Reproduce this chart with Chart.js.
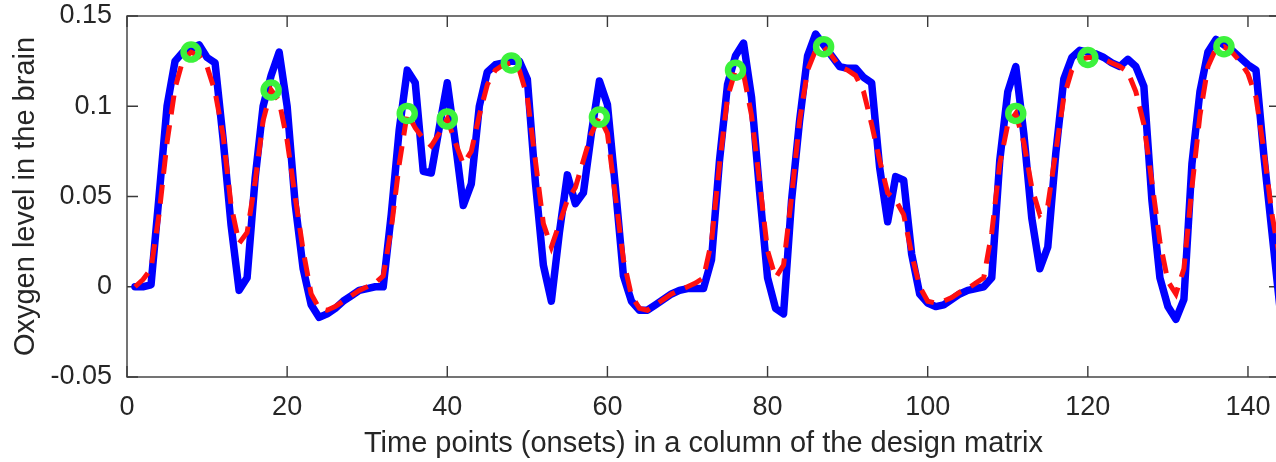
<!DOCTYPE html>
<html>
<head>
<meta charset="utf-8">
<script src="https://cdn.jsdelivr.net/npm/chart.js@4/dist/chart.umd.min.js"></script>
<style>
  html, body { margin: 0; padding: 0; background: #fff; overflow: hidden; }
  canvas { display: block; }
</style>
</head>
<body>
<canvas id="chart" width="1294" height="462"></canvas>
<script>
// measured BOLD signal (blue, solid), t = 1..144
const measured = [
  0.000, 0.000, 0.001, 0.050, 0.100, 0.125, 0.130, 0.132, 0.134, 0.127,
  0.124, 0.082, 0.034, -0.002, 0.005, 0.060, 0.100, 0.117, 0.130, 0.100,
  0.046, 0.010, -0.010, -0.017, -0.015, -0.012, -0.008, -0.005, -0.002, -0.001,
  0.000, 0.000, 0.040, 0.087, 0.120, 0.113, 0.064, 0.063, 0.088, 0.113,
  0.080, 0.045, 0.057, 0.100, 0.119, 0.123, 0.124, 0.125, 0.125, 0.115,
  0.058, 0.012, -0.008, 0.030, 0.062, 0.046, 0.052, 0.085, 0.114, 0.101,
  0.055, 0.006, -0.008, -0.013, -0.013, -0.010, -0.007, -0.004, -0.002, -0.001,
  -0.001, -0.001, 0.015, 0.070, 0.112, 0.128, 0.135, 0.105, 0.053, 0.005,
  -0.012, -0.015, 0.048, 0.092, 0.128, 0.140, 0.134, 0.128, 0.122, 0.121,
  0.121, 0.116, 0.113, 0.066, 0.036, 0.061, 0.059, 0.018, -0.004, -0.009,
  -0.011, -0.010, -0.007, -0.004, -0.002, -0.001, 0.000, 0.005, 0.070, 0.108,
  0.122, 0.085, 0.038, 0.010, 0.022, 0.074, 0.115, 0.127, 0.131, 0.130,
  0.129, 0.127, 0.124, 0.122, 0.126, 0.122, 0.111, 0.048, 0.005, -0.011,
  -0.018, -0.007, 0.068, 0.108, 0.130, 0.137, 0.134, 0.131, 0.127, 0.123,
  0.120, 0.072, 0.030, -0.012
];
// model fit (red, dashed)
const fitted = [
  0.000, 0.004, 0.010, 0.040, 0.080, 0.110, 0.126, 0.130, 0.128, 0.122,
  0.108, 0.084, 0.045, 0.024, 0.030, 0.058, 0.092, 0.109, 0.103, 0.081,
  0.050, 0.020, -0.004, -0.012, -0.013, -0.011, -0.008, -0.005, -0.002, 0.000,
  0.002, 0.006, 0.032, 0.068, 0.096, 0.088, 0.082, 0.078, 0.085, 0.093,
  0.080, 0.068, 0.075, 0.095, 0.112, 0.120, 0.123, 0.124, 0.120, 0.105,
  0.070, 0.035, 0.022, 0.035, 0.048, 0.055, 0.070, 0.085, 0.094, 0.085,
  0.050, 0.015, -0.005, -0.012, -0.013, -0.010, -0.007, -0.004, -0.002, 0.000,
  0.002, 0.005, 0.025, 0.068, 0.105, 0.120, 0.118, 0.095, 0.058, 0.020,
  0.005, 0.012, 0.050, 0.092, 0.120, 0.131, 0.133, 0.128, 0.122, 0.120,
  0.117, 0.108, 0.090, 0.070, 0.052, 0.048, 0.040, 0.018, 0.000, -0.008,
  -0.009, -0.008, -0.006, -0.003, -0.001, 0.002, 0.005, 0.030, 0.068, 0.090,
  0.096, 0.080, 0.055, 0.040, 0.045, 0.075, 0.105, 0.120, 0.126, 0.127,
  0.127, 0.126, 0.124, 0.122, 0.119, 0.108, 0.090, 0.058, 0.025, 0.003,
  -0.004, 0.010, 0.055, 0.095, 0.122, 0.132, 0.133, 0.130, 0.125, 0.118,
  0.105, 0.075, 0.040, 0.015
];
// onsets marked with green rings
const onsetTimes  = [8, 18, 35, 40, 48, 59, 76, 87, 111, 120, 137];
const onsetValues = [0.130, 0.109, 0.096, 0.093, 0.124, 0.094, 0.120, 0.133, 0.096, 0.127, 0.133];

const xTicks = [0, 20, 40, 60, 80, 100, 120, 140];
const yTicks = [-0.05, 0, 0.05, 0.1, 0.15];

const timePoints = measured.map((_, i) => i + 1);
const FONT = "'Liberation Sans', Arial, Helvetica, sans-serif";
const INK = '#262626';

// matlab style box with inward ticks on all four sides
const boxTicks = {
  id: 'boxTicks',
  beforeDatasetsDraw(chart) {
    const {ctx, chartArea: a, scales: {x, y}} = chart;
    const len = 11;
    ctx.save();
    ctx.strokeStyle = '#3a3a3a';
    ctx.lineWidth = 1.4;
    ctx.strokeRect(a.left, a.top, a.right - a.left, a.bottom - a.top);
    ctx.beginPath();
    x.ticks.forEach(t => {
      const px = x.getPixelForValue(t.value);
      ctx.moveTo(px, a.bottom); ctx.lineTo(px, a.bottom - len);
      ctx.moveTo(px, a.top); ctx.lineTo(px, a.top + len);
    });
    y.ticks.forEach(t => {
      const py = y.getPixelForValue(t.value);
      ctx.moveTo(a.left, py); ctx.lineTo(a.left + len, py);
      ctx.moveTo(a.right, py); ctx.lineTo(a.right - len, py);
    });
    ctx.stroke();
    ctx.restore();
  }
};

new Chart(document.getElementById('chart'), {
  type: 'line',
  data: {
    datasets: [
      {
        data: onsetTimes.map((t, i) => ({x: t, y: onsetValues[i]})),
        showLine: false,
        pointRadius: 7.5,
        pointBorderWidth: 6.5,
        pointBorderColor: '#3cf23c',
        pointBackgroundColor: 'rgba(0,0,0,0)',
        order: 1
      },
      {
        data: timePoints.map((t, i) => ({x: t, y: fitted[i]})),
        borderColor: '#ff1010',
        borderWidth: 5,
        borderDash: [19, 11],
        pointRadius: 0,
        tension: 0,
        order: 2
      },
      {
        data: timePoints.map((t, i) => ({x: t, y: measured[i]})),
        borderColor: '#0000ff',
        borderWidth: 7.5,
        borderJoinStyle: 'round',
        borderCapStyle: 'round',
        pointRadius: 0,
        tension: 0,
        order: 3
      }
    ]
  },
  options: {
    responsive: false,
    animation: false,
    events: [],
    layout: { padding: { top: 16, right: 3, bottom: 0, left: 0 } },
    plugins: { legend: { display: false }, tooltip: { enabled: false } },
    scales: {
      x: {
        type: 'linear',
        min: 0, max: 144,
        grid: { display: false, drawTicks: false },
        border: { display: false },
        afterBuildTicks: s => { s.ticks = xTicks.map(v => ({value: v})); },
        afterFit: s => { s.height = 85; s.paddingLeft = 0; s.paddingRight = 0; },
        ticks: { color: INK, padding: 14, font: { family: FONT, size: 27 }, maxRotation: 0 },
        title: {
          display: true,
          text: 'Time points (onsets) in a column of the design matrix',
          color: INK,
          font: { family: FONT, size: 29 },
          padding: 1
        }
      },
      y: {
        min: -0.05, max: 0.15,
        grid: { display: false, drawTicks: false },
        border: { display: false },
        afterBuildTicks: s => { s.ticks = yTicks.map(v => ({value: v})); },
        afterFit: s => { s.width = 127; s.paddingTop = 0; s.paddingBottom = 0; },
        ticks: { color: INK, padding: 15, font: { family: FONT, size: 27 },
                 callback: v => String(Math.round(v * 100) / 100) },
        title: {
          display: true,
          text: 'Oxygen level in the brain',
          color: INK,
          font: { family: FONT, size: 29 },
          padding: 9
        }
      }
    }
  },
  plugins: [boxTicks]
});
</script>
</body>
</html>
